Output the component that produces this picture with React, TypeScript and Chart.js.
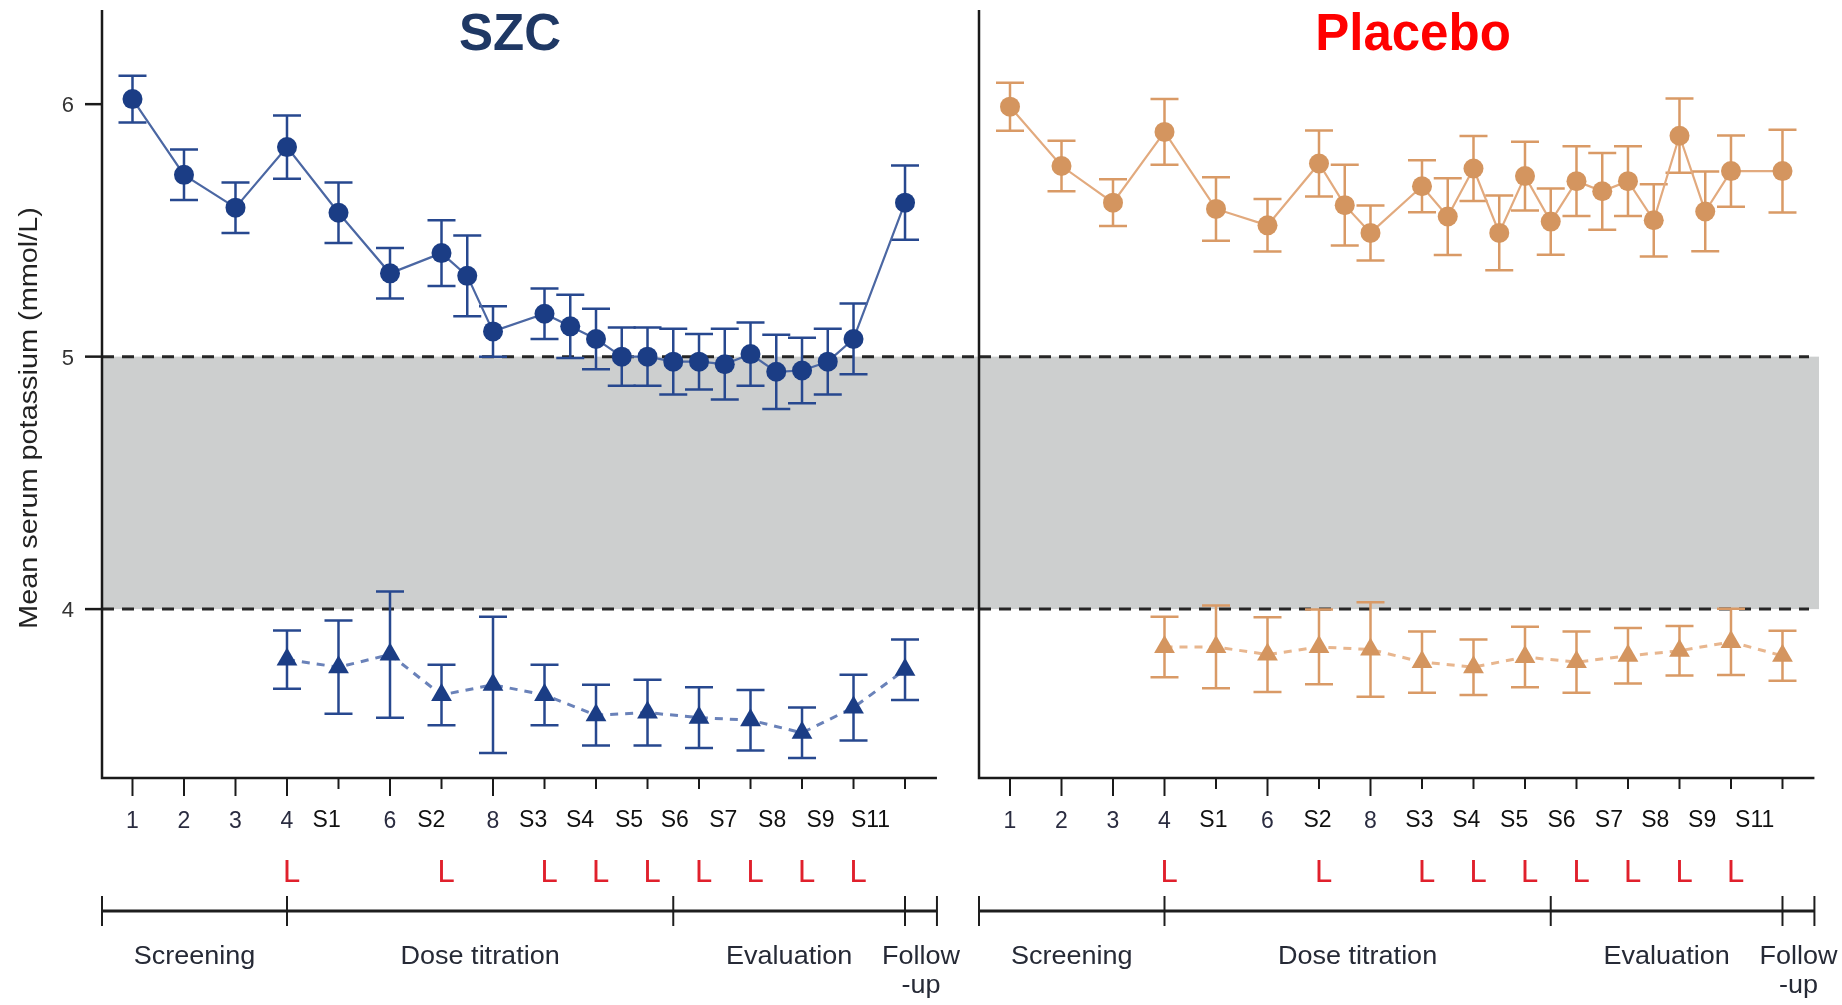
import React, { useEffect, useRef } from 'react';
import { Chart, registerables } from 'chart.js';

Chart.register(...registerables);

// ---- data ----------------------------------------------------------------
// Axis position of each scheduled visit (one unit per visit tick, half units for interim visits)
const visitPos = [0, 1, 2, 3, 4, 5, 6, 6.5, 7, 8, 8.5, 9, 9.5, 10, 10.5, 11, 11.5, 12, 12.5, 13, 13.5, 14, 15];
const lowVisitPos = [3, 4, 5, 6, 7, 8, 9, 10, 11, 12, 13, 14, 15];

// Visit tick labels (one per tick, ticks 0..15)
const tickLabels = ['1', '2', '3', '4', 'S1', '6', 'S2', '8', 'S3', 'S4', 'S5', 'S6', 'S7', 'S8', 'S9', 'S11'];
// Where each visit label sits along the axis
const szcLabelAt = [0, 1, 2, 3, 3.77, 5, 5.8, 7, 7.78, 8.69, 9.64, 10.53, 11.47, 12.42, 13.36, 14.33];
const pboLabelAt = [0, 1, 2, 3, 3.95, 5, 5.97, 7, 7.95, 8.86, 9.79, 10.71, 11.63, 12.53, 13.44, 14.46];

// Visits with a local laboratory ("L") measurement
const labVisits = [3, 6, 8, 9, 10, 11, 12, 13, 14];

// Study phases and the visit positions separating them
const phaseNames = ['Screening', 'Dose titration', 'Evaluation', 'Follow\n-up'];
const phaseBreaks = [3, 10.5, 15];
const timelineEnd = 15.62;

// Normokalaemia band (mmol/L) and y ticks
const normalRange = [4, 5];
const yTicks = [4, 5, 6];

// SZC: mean serum potassium ± error, upper (circles) and lower (triangles) groups
const szcMean = [6.02, 5.72, 5.59, 5.83, 5.57, 5.33, 5.41, 5.32, 5.10, 5.17, 5.12, 5.07, 5.0, 5.0, 4.98, 4.98, 4.97, 5.01, 4.94, 4.945, 4.98, 5.07, 5.61];
const szcErr = [0.093, 0.1, 0.1, 0.125, 0.12, 0.1, 0.13, 0.16, 0.1, 0.1, 0.125, 0.12, 0.115, 0.115, 0.13, 0.11, 0.14, 0.125, 0.147, 0.13, 0.13, 0.14, 0.147];
const szcLowMean = [3.8, 3.77, 3.82, 3.66, 3.7, 3.66, 3.58, 3.59, 3.57, 3.56, 3.51, 3.61, 3.76];
const szcLowErr = [0.115, 0.185, 0.25, 0.12, 0.27, 0.12, 0.12, 0.13, 0.12, 0.12, 0.1, 0.13, 0.12];

// Placebo
const pboMean = [5.99, 5.755, 5.61, 5.89, 5.585, 5.52, 5.765, 5.6, 5.49, 5.675, 5.555, 5.745, 5.49, 5.715, 5.535, 5.695, 5.655, 5.695, 5.54, 5.875, 5.575, 5.735, 5.735];
const pboErr = [0.095, 0.1, 0.093, 0.13, 0.126, 0.104, 0.131, 0.16, 0.109, 0.103, 0.152, 0.129, 0.148, 0.136, 0.131, 0.138, 0.152, 0.138, 0.143, 0.147, 0.158, 0.141, 0.164];
const pboLowMean = [3.85, 3.85, 3.82, 3.85, 3.84, 3.79, 3.77, 3.81, 3.79, 3.815, 3.835, 3.87, 3.815];
const pboLowErr = [0.12, 0.164, 0.148, 0.148, 0.187, 0.121, 0.11, 0.12, 0.121, 0.11, 0.098, 0.131, 0.099];

// ---- drawing ---------------------------------------------------------------
const FONT = '"Liberation Sans", Arial, Helvetica, sans-serif';

type Panel = {
  title: string;
  titleColor: string;
  titleX: number;
  labelAt: number[];
  yAxisLabels: boolean;
  dashInset: number;
  pad: { left: number; right: number };
  xMin: number;
  xMax: number;
  upper: { mean: number[]; err: number[] };
  lower: { mean: number[]; err: number[] };
  colors: { marker: string; bar: string; line: string; dash: string };
};

function stretchedText(ctx: CanvasRenderingContext2D, text: string, x: number, y: number, sx: number) {
  ctx.save();
  ctx.translate(x, y);
  ctx.scale(sx, 1);
  ctx.fillText(text, 0, 0);
  ctx.restore();
}

function makeDecor(panel: Panel) {
  return {
    id: 'panelDecor',
    beforeDatasetsDraw(chart: any) {
      const { ctx, chartArea: a } = chart;
      const x = chart.scales.x;
      const y = chart.scales.y;
      ctx.save();
      // normal range band
      const yHi = y.getPixelForValue(normalRange[1]);
      const yLo = y.getPixelForValue(normalRange[0]);
      ctx.fillStyle = '#cdcfcf';
      ctx.fillRect(a.left, yHi, a.right - a.left, yLo - yHi);
      // dashed limits
      ctx.strokeStyle = '#262626';
      ctx.lineWidth = 3;
      ctx.setLineDash([12, 8]);
      for (const v of normalRange) {
        const py = y.getPixelForValue(v);
        ctx.beginPath();
        ctx.moveTo(a.left, py);
        ctx.lineTo(a.right - panel.dashInset, py);
        ctx.stroke();
      }
      ctx.setLineDash([]);
      // axis lines
      ctx.strokeStyle = '#1a1a1a';
      ctx.lineWidth = 2.5;
      ctx.beginPath();
      ctx.moveTo(a.left, a.top);
      ctx.lineTo(a.left, a.bottom);
      ctx.lineTo(x.getPixelForValue(timelineEnd), a.bottom);
      ctx.stroke();
      // error bars
      chart.data.datasets.forEach((ds: any) => {
        const err: number[] = ds.errorBars;
        if (!err) return;
        ctx.strokeStyle = ds.errorColor;
        ctx.lineWidth = 2.5;
        ds.data.forEach((p: { x: number; y: number }, j: number) => {
          const px = x.getPixelForValue(p.x);
          const top = y.getPixelForValue(p.y + err[j]);
          const bot = y.getPixelForValue(p.y - err[j]);
          ctx.beginPath();
          ctx.moveTo(px, top);
          ctx.lineTo(px, bot);
          ctx.moveTo(px - 14, top);
          ctx.lineTo(px + 14, top);
          ctx.moveTo(px - 14, bot);
          ctx.lineTo(px + 14, bot);
          ctx.stroke();
        });
      });
      ctx.restore();
    },
    afterDraw(chart: any) {
      const { ctx, chartArea: a } = chart;
      const x = chart.scales.x;
      const y = chart.scales.y;
      ctx.save();

      // title
      ctx.fillStyle = panel.titleColor;
      ctx.font = `bold 51px ${FONT}`;
      ctx.textAlign = 'center';
      ctx.textBaseline = 'alphabetic';
      ctx.fillText(panel.title, panel.titleX, 50);

      // y axis ticks, labels and title
      if (panel.yAxisLabels) {
        ctx.strokeStyle = '#1a1a1a';
        ctx.lineWidth = 2.5;
        ctx.fillStyle = '#333';
        ctx.font = `22px ${FONT}`;
        ctx.textAlign = 'right';
        for (const v of yTicks) {
          const py = y.getPixelForValue(v);
          ctx.beginPath();
          ctx.moveTo(a.left - 17, py);
          ctx.lineTo(a.left, py);
          ctx.stroke();
          ctx.fillText(String(v), a.left - 28, py + 8);
        }
        ctx.save();
        ctx.translate(30, 418);
        ctx.rotate(-Math.PI / 2);
        ctx.scale(1.11, 1);
        ctx.font = `26px ${FONT}`;
        ctx.fillStyle = '#222';
        ctx.textAlign = 'center';
        ctx.textBaseline = 'middle';
        ctx.fillText('Mean serum potassium (mmol/L)', 0, 0);
        ctx.restore();
      }

      // x ticks and visit labels
      ctx.strokeStyle = '#1a1a1a';
      ctx.lineWidth = 2;
      ctx.textAlign = 'center';
      tickLabels.forEach((lab, i) => {
        const numeric = /^\d+$/.test(lab);
        const px = x.getPixelForValue(i);
        ctx.beginPath();
        ctx.moveTo(px, a.bottom);
        ctx.lineTo(px, a.bottom + (numeric ? 18 : 11));
        ctx.stroke();
        const lx = x.getPixelForValue(panel.labelAt[i]);
        ctx.font = `23px ${FONT}`;
        ctx.fillStyle = numeric ? '#2a2c40' : '#111';
        ctx.fillText(lab, lx, numeric ? 828 : 827);
      });

      // local lab markers
      ctx.fillStyle = '#e0202c';
      ctx.font = `31px ${FONT}`;
      ctx.textAlign = 'left';
      for (const v of labVisits) {
        ctx.fillText('L', x.getPixelForValue(v) - 4, 882);
      }

      // study timeline
      const tY = 911;
      const bounds = [x.min, ...phaseBreaks, timelineEnd];
      ctx.strokeStyle = '#1e1e1e';
      ctx.lineWidth = 3;
      ctx.beginPath();
      ctx.moveTo(x.getPixelForValue(bounds[0]), tY);
      ctx.lineTo(x.getPixelForValue(bounds[bounds.length - 1]), tY);
      ctx.stroke();
      ctx.lineWidth = 2;
      for (const b of bounds) {
        const px = x.getPixelForValue(b);
        ctx.beginPath();
        ctx.moveTo(px, tY - 15);
        ctx.lineTo(px, tY + 15);
        ctx.stroke();
      }
      ctx.fillStyle = '#262a36';
      ctx.font = `25px ${FONT}`;
      ctx.textAlign = 'left';
      phaseNames.forEach((name, i) => {
        const cx = (x.getPixelForValue(bounds[i]) + x.getPixelForValue(bounds[i + 1])) / 2;
        name.split('\n').forEach((line, k) => {
          const w = ctx.measureText(line).width * 1.08;
          stretchedText(ctx, line, cx - w / 2, 964 + k * 29, 1.08);
        });
      });

      ctx.restore();
    },
  };
}

function buildChart(canvas: HTMLCanvasElement, panel: Panel) {
  const toPts = (xs: number[], ys: number[]) => xs.map((v, i) => ({ x: v, y: ys[i] }));
  return new Chart(canvas, {
    type: 'line',
    data: {
      datasets: [
        {
          data: toPts(visitPos, panel.upper.mean),
          errorBars: panel.upper.err,
          errorColor: panel.colors.bar,
          borderColor: panel.colors.line,
          borderWidth: 2.2,
          pointStyle: 'circle',
          pointRadius: 10,
          pointBackgroundColor: panel.colors.marker,
          pointBorderWidth: 0,
          tension: 0,
          clip: false,
        } as any,
        {
          data: toPts(lowVisitPos, panel.lower.mean),
          errorBars: panel.lower.err,
          errorColor: panel.colors.bar,
          borderColor: panel.colors.dash,
          borderWidth: 3,
          borderDash: [8, 7],
          pointStyle: 'triangle',
          pointRadius: 12,
          pointBackgroundColor: panel.colors.marker,
          pointBorderWidth: 0,
          tension: 0,
          clip: false,
        } as any,
      ],
    },
    options: {
      responsive: false,
      animation: false,
      devicePixelRatio: 1,
      events: [],
      layout: {
        autoPadding: false,
        padding: { left: panel.pad.left, right: panel.pad.right, top: 10, bottom: 227 },
      },
      plugins: { legend: { display: false }, tooltip: { enabled: false }, title: { display: false } },
      scales: {
        x: { type: 'linear', display: false, min: panel.xMin, max: panel.xMax },
        y: { type: 'linear', display: false, min: 3.331, max: 6.373 },
      },
    },
    plugins: [makeDecor(panel)],
  });
}

const szcPanel: Panel = {
  title: 'SZC',
  titleColor: '#1f3864',
  titleX: 510,
  labelAt: szcLabelAt,
  yAxisLabels: true,
  dashInset: 0,
  pad: { left: 102, right: 0 },
  xMin: -0.592,
  xMax: 16.417,
  upper: { mean: szcMean, err: szcErr },
  lower: { mean: szcLowMean, err: szcLowErr },
  colors: { marker: '#1b3d85', bar: '#27488f', line: '#4b67a3', dash: '#6a82b9' },
};

const placeboPanel: Panel = {
  title: 'Placebo',
  titleColor: '#ff0000',
  titleX: 453,
  labelAt: pboLabelAt,
  yAxisLabels: false,
  dashInset: 10,
  pad: { left: 19, right: 23 },
  xMin: -0.602,
  xMax: 15.709,
  upper: { mean: pboMean, err: pboErr },
  lower: { mean: pboLowMean, err: pboLowErr },
  colors: { marker: '#d4955f', bar: '#d99a66', line: '#e2aa7e', dash: '#e8b68e' },
};

export default function App() {
  const leftRef = useRef<HTMLCanvasElement>(null);
  const rightRef = useRef<HTMLCanvasElement>(null);

  useEffect(() => {
    const charts: Chart[] = [];
    if (leftRef.current) charts.push(buildChart(leftRef.current, szcPanel));
    if (rightRef.current) charts.push(buildChart(rightRef.current, placeboPanel));
    return () => charts.forEach((c) => c.destroy());
  }, []);

  return (
    <div style={{ position: 'absolute', left: 0, top: 0, width: 1842, height: 1005, background: '#fff', overflow: 'hidden' }}>
      <canvas ref={leftRef} width={978} height={1005} style={{ position: 'absolute', left: 0, top: 0, width: 978, height: 1005 }} />
      <canvas ref={rightRef} width={882} height={1005} style={{ position: 'absolute', left: 960, top: 0, width: 882, height: 1005 }} />
    </div>
  );
}
